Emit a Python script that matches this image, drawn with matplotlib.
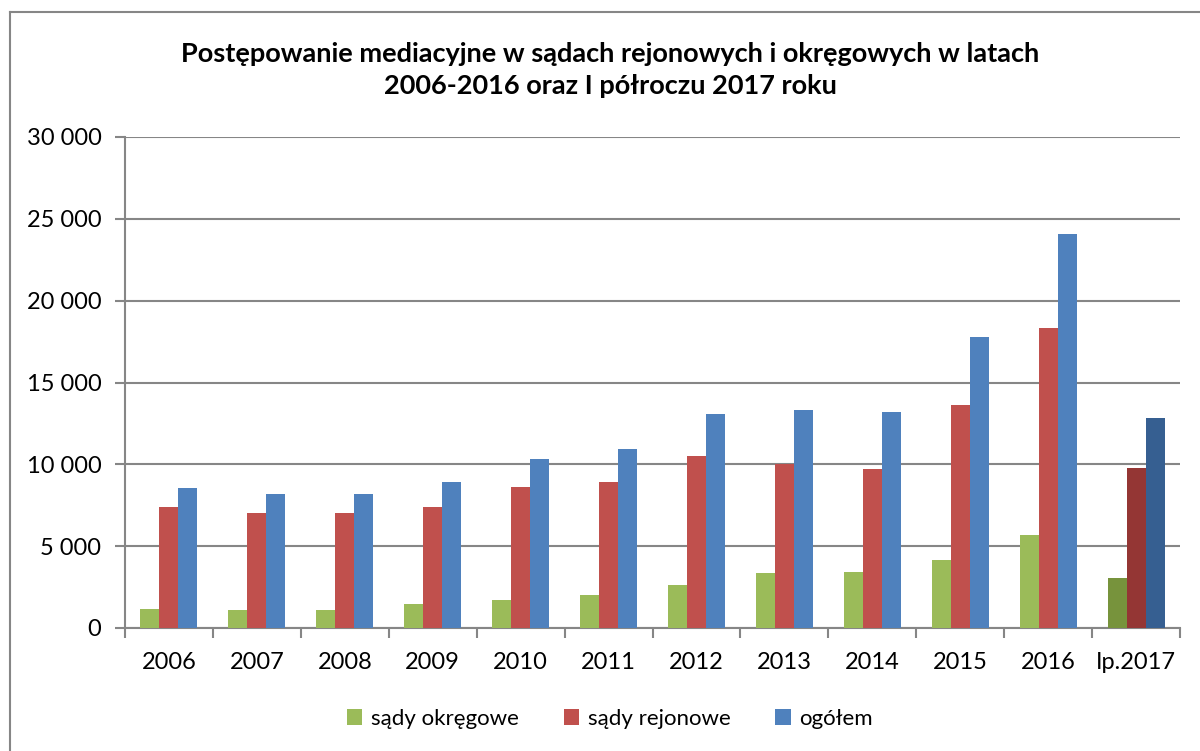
import matplotlib
matplotlib.use("Agg")
import matplotlib.pyplot as plt
from matplotlib.patches import Patch
from matplotlib.lines import Line2D
import numpy as np

plt.rcParams['font.family'] = ['Lato', 'DejaVu Sans']

categories = ["2006", "2007", "2008", "2009", "2010", "2011", "2012", "2013", "2014", "2015", "2016", "Ip.2017"]
okregowe = [1150, 1100, 1100, 1470, 1710, 2020, 2600, 3350, 3410, 4150, 5700, 3050]
rejonowe = [7380, 7050, 7050, 7420, 8600, 8900, 10480, 9990, 9740, 13600, 18350, 9790]
ogolem = [8560, 8170, 8180, 8900, 10310, 10920, 13090, 13340, 13200, 17790, 24080, 12850]
series_names = ["sądy okręgowe", "sądy rejonowe", "ogółem"]
title = "Postępowanie mediacyjne w sądach rejonowych i okręgowych w latach\n2006-2016 oraz I półroczu 2017 roku"

colors = ["#9BBB59", "#C0504D", "#4F81BD"]
dark_colors = ["#77933C", "#943634", "#365F91"]
grid_c = "#868686"

W, H = 1200, 751
fig = plt.figure(figsize=(W / 100, H / 100), dpi=100)
ax = fig.add_axes([125 / W, 1 - 628 / H, 1055 / W, (628 - 137) / H])

x = np.arange(len(categories))
bw = 0.216
for k, vals in enumerate([okregowe, rejonowe, ogolem]):
    cols = [colors[k]] * (len(categories) - 1) + [dark_colors[k]]
    ax.bar(x + (k - 1) * bw, vals, width=bw, color=cols, linewidth=0, zorder=3)

ax.set_xlim(-0.5, len(categories) - 0.5)
ax.set_ylim(0, 30000)
yt = np.arange(0, 30001, 5000)
ax.set_yticks(yt)
ax.set_yticklabels([f"{v:,}".replace(",", " ") for v in yt], fontsize=17)
ax.set_xticks(x)
ax.set_xticklabels(categories, fontsize=17)
ax.set_xticks(np.arange(-0.5, len(categories)), minor=True)
ax.tick_params(axis='x', which='major', length=0, pad=17)
ax.tick_params(axis='x', which='minor', length=7, color=grid_c, width=1.5, direction='out')
ax.tick_params(axis='y', length=7, color=grid_c, width=1.5, direction='out', pad=10)
ax.yaxis.grid(True, color=grid_c, linewidth=1.5, zorder=0)
ax.set_axisbelow(True)
for s in ['top', 'right']:
    ax.spines[s].set_visible(False)
for s in ['left', 'bottom']:
    ax.spines[s].set_color(grid_c)
    ax.spines[s].set_linewidth(1.5)

fig.text(610 / W, 1 - 70 / H, title, ha='center', va='center', fontsize=19.5,
         fontweight='bold', linespacing=1.4)

handles = [Patch(facecolor=c, edgecolor='none') for c in colors]
fig.legend(handles, series_names, loc='center', bbox_to_anchor=(610 / W, 1 - 719 / H),
           ncol=3, frameon=False, fontsize=16, handlelength=0.7, handleheight=0.7,
           handletextpad=0.4, columnspacing=2.0)

# chart-area border (left and top visible)
fig.add_artist(Line2D([10 / W, 10 / W], [0, 1 - 12 / H], color=grid_c, lw=1.5))
fig.add_artist(Line2D([10 / W, 1], [1 - 12 / H, 1 - 12 / H], color=grid_c, lw=1.5))

fig.savefig("out.png", dpi=100)
